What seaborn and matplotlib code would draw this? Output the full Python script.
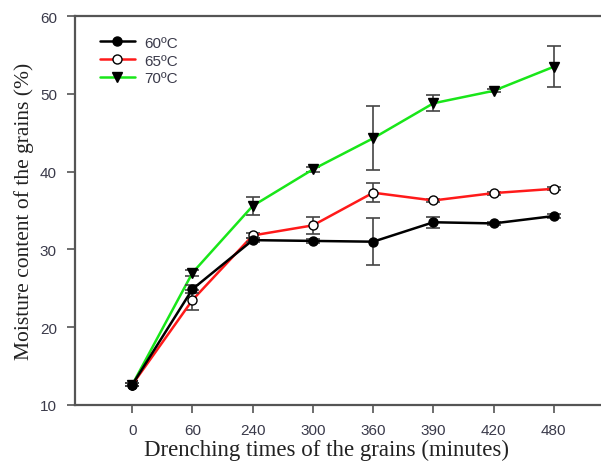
import numpy as np
import pandas as pd
import matplotlib
matplotlib.use('Agg')
import matplotlib.pyplot as plt
import seaborn as sns

# Data
times = ['0', '60', '240', '300', '360', '390', '420', '480']
temps = ['60ºC', '65ºC', '70ºC']
moist_60 = [12.6, 24.9, 31.2, 31.1, 31.0, 33.5, 33.35, 34.3]
moist_65 = [12.6, 23.5, 31.8, 33.1, 37.3, 36.3, 37.25, 37.8]
moist_70 = [12.6, 27.0, 35.6, 40.3, 44.3, 48.8, 50.4, 53.5]
err_60 = [0.2, 0.5, 0.3, 0.3, 3.0, 0.7, 0.2, 0.3]
err_65 = [0.2, 1.3, 0.3, 1.1, 1.2, 0.2, 0.2, 0.2]
err_70 = [0.2, 0.4, 1.2, 0.3, 4.1, 1.0, 0.2, 2.6]

sns.set_style('white')
plt.rcParams['font.family'] = ['Liberation Sans', 'DejaVu Sans']

fig = plt.figure(figsize=(6.01, 4.64), dpi=100)
ax = fig.add_axes([0.1248, 0.125, 0.897, 0.838])

pos = np.arange(len(times))
series = [
    (temps[0], moist_60, err_60, '#000000', 'o', 'black', 5),
    (temps[1], moist_65, err_65, '#ff1a1a', 'o', 'white', 4),
    (temps[2], moist_70, err_70, '#19e619', 'v', 'black', 3),
]

for label, y, e, col, mk, mfc, z in series:
    df = pd.DataFrame({'pos': pos, 'val': y})
    ax.errorbar(pos, y, yerr=e, fmt='none', ecolor='#444444', elinewidth=1.2,
                capsize=5, capthick=1.2, zorder=z - 0.5)
    sns.lineplot(data=df, x='pos', y='val', ax=ax, color=col, linewidth=1.8,
                 marker=mk, markersize=6.5, markerfacecolor=mfc,
                 markeredgecolor='black', markeredgewidth=1.0,
                 label=label, zorder=z, sort=False)

ax.set_xlim(-0.95, 8.0)
ax.set_ylim(10, 60)
ax.set_xticks(pos)
ax.set_xticklabels(times)
ax.set_yticks([10, 20, 30, 40, 50, 60])

for s in ['left', 'bottom', 'top']:
    ax.spines[s].set_color('#555555')
    ax.spines[s].set_linewidth(1.6)
ax.spines['right'].set_visible(False)
ax.tick_params(axis='both', direction='out', length=6, width=1.2, color='#555555',
               labelsize=11, labelcolor='#3a3a4a', pad=7, left=True, bottom=True)

ax.set_xlabel('Drenching times of the grains (minutes)', family='Liberation Serif',
              fontsize=16.5, color='#222222')
ax.xaxis.set_label_coords(0.467, -0.088)
ax.set_ylabel('Moisture content of the grains (%)', family='Liberation Serif',
              fontsize=15.5, color='#222222', labelpad=4)

# legend order 60, 65, 70
handles, labels = ax.get_legend_handles_labels()
leg = ax.legend(handles, labels, loc='upper left', bbox_to_anchor=(0.02, 0.985),
                frameon=False, fontsize=11, handlelength=2.3, labelspacing=0.25,
                handletextpad=0.6)
for t in leg.get_texts():
    t.set_color('#3a3a4a')

fig.savefig('out.png', dpi=100)
